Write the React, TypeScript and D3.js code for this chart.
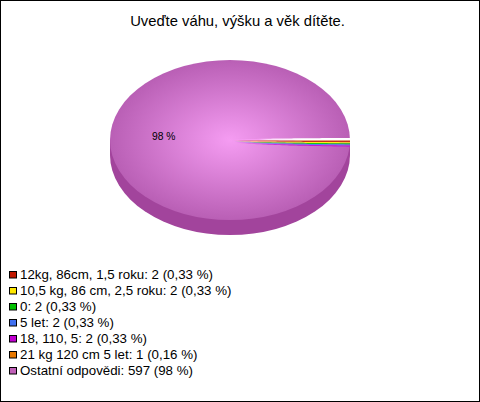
import React from "react";
import * as d3 from "d3";

const categories = ["12kg, 86cm, 1,5 roku", "10,5 kg, 86 cm, 2,5 roku", "0", "5 let", "18, 110, 5", "21 kg 120 cm 5 let", "Ostatní odpovědi"];
const counts = [2, 2, 2, 2, 2, 1, 597];
const percents = ["0,33 %", "0,33 %", "0,33 %", "0,33 %", "0,33 %", "0,16 %", "98 %"];
const colors = ["#c01800", "#ffe800", "#00c000", "#4070f0", "#c000d0", "#e87800", "#c060b8"];
const wedgeOrder = [5, 0, 1, 2, 3, 4];
const title = "Uveďte váhu, výšku a věk dítěte.";

const W = 480, H = 402;
const cx = 230, cy = 140, rx = 120, ry = 80, depth = 15;
const bandTop = 140.5, bandHeight = 6.2, gapHeight = 2.6;
const apexX = 233;

export default function App() {
  const pie = d3.pie<number>().sort(null);
  const arc = d3.arc<any>().innerRadius(0).outerRadius(rx);
  const full = pie([1])[0];
  const legendY = d3.scaleLinear().domain([0, 1]).range([274, 290]);

  // Thin wedges: stacked from the counts, bulging quickly away from the apex.
  const smallTotal = d3.sum(wedgeOrder, (i) => counts[i]);
  const yCum = d3.scaleLinear().domain([0, smallTotal]).range([0, bandHeight]);
  const ts = d3.range(0, 1.0001, 0.02);
  const xT = d3.scaleLinear().domain([0, 1]).range([apexX, cx + rx]);
  const profile = (t: number) => Math.pow(t, 0.3);
  const band = (c0: number, c1: number) =>
    d3.area<number>()
      .x((t) => xT(t))
      .y0((t) => bandTop - 0.5 + (0.5 + yCum(c0)) * profile(t))
      .y1((t) => bandTop - 0.5 + (0.5 + yCum(c1)) * profile(t))(ts) || "";
  const gapBand =
    d3.area<number>()
      .x((t) => xT(t))
      .y0((t) => bandTop - gapHeight * profile(t))
      .y1(() => bandTop)(ts) || "";
  let cum = 0;
  const wedges = wedgeOrder.map((k) => {
    const c0 = cum;
    cum += counts[k];
    return { k, d: band(c0, cum) };
  });
  const lit = (c: string) => d3.interpolateRgb(c, "#ffffff")(0.1);
  const stops = (c: string) => (
    <>
      <stop offset="0" stopColor="#f59cf2" />
      <stop offset="0.1" stopColor={d3.interpolateRgb("#f59cf2", c)(0.35)} />
      <stop offset="0.27" stopColor={d3.interpolateRgb("#f59cf2", c)(0.75)} />
      <stop offset="0.5" stopColor={c} />
    </>
  );

  return (
    <svg width={W} height={H} style={{ position: "absolute", left: 0, top: 0, display: "block" }}>
      <defs>
        <radialGradient id="g" cx="0.5" cy="0.5" r="0.5">
          <stop offset="0" stopColor="#f59cf2" />
          <stop offset="1" stopColor="#b95fb5" />
        </radialGradient>
        {wedgeOrder.map((k) => (
          <linearGradient key={k} id={`s${k}`} gradientUnits="userSpaceOnUse" x1={apexX} y1={0} x2={cx + rx} y2={0}>
            {stops(lit(colors[k]))}
          </linearGradient>
        ))}
        <linearGradient id="w" gradientUnits="userSpaceOnUse" x1={apexX} y1={0} x2={cx + rx} y2={0}>
          <stop offset="0.22" stopColor="#f59cf2" />
          <stop offset="0.3" stopColor="#fbd8f8" />
          <stop offset="0.6" stopColor="#ffffff" />
        </linearGradient>
      </defs>
      <rect x={0.5} y={0.5} width={W - 1} height={H - 1} fill="#fff" stroke="#000" />
      <text x={237.5} y={26} textAnchor="middle" fontFamily="Liberation Sans" fontSize={14.8}>{title}</text>
      <ellipse cx={cx} cy={cy + depth} rx={rx} ry={ry} fill="#a2449c" />
      <rect x={cx - rx} y={cy} width={rx * 2} height={depth} fill="#a2449c" />
      <g transform={`translate(${cx},${cy}) scale(1,${ry / rx})`}>
        <path d={arc(full) || ""} fill="url(#g)" />
      </g>
      <path d={gapBand} fill="url(#w)" />
      {wedges.map((w) => (
        <path key={w.k} d={w.d} fill={`url(#s${w.k})`} />
      ))}
      <text x={152} y={140} fontFamily="Liberation Sans" fontSize={10.3}>98 %</text>
      {categories.map((c, i) => (
        <g key={c}>
          <rect x={9.5} y={legendY(i) - 2.5} width={7} height={6.5} fill={colors[i]} stroke="#000" />
          <text x={20} y={legendY(i) + 5} fontFamily="Liberation Sans" fontSize={13.3}>{`${c}: ${counts[i]} (${percents[i]})`}</text>
        </g>
      ))}
    </svg>
  );
}
